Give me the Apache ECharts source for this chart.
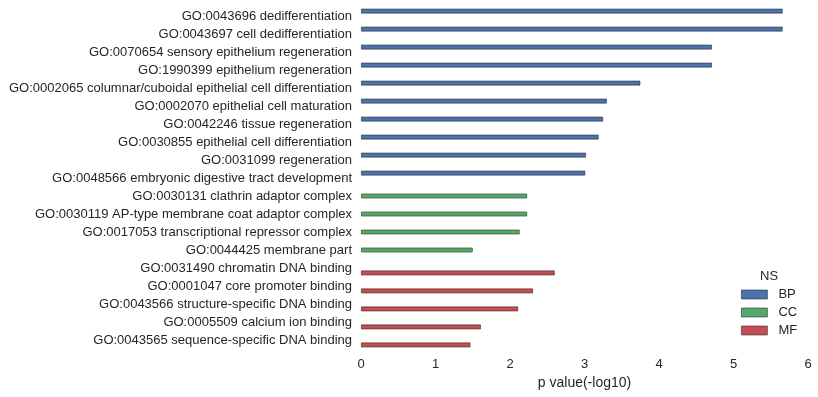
<!DOCTYPE html>
<html>
<head>
<meta charset="utf-8">
<script src="https://cdn.jsdelivr.net/npm/echarts@6/dist/echarts.min.js"></script>
<style>
  html, body { margin: 0; padding: 0; background: #fff; }
  #main { width: 818px; height: 397px; }
</style>
</head>
<body>
<div id="main"></div>
<script>
// GO 术语
var categories = [
    'GO:0043696 dedifferentiation',
    'GO:0043697 cell dedifferentiation',
    'GO:0070654 sensory epithelium regeneration',
    'GO:1990399 epithelium regeneration',
    'GO:0002065 columnar/cuboidal epithelial cell differentiation',
    'GO:0002070 epithelial cell maturation',
    'GO:0042246 tissue regeneration',
    'GO:0030855 epithelial cell differentiation',
    'GO:0031099 regeneration',
    'GO:0048566 embryonic digestive tract development',
    'GO:0030131 clathrin adaptor complex',
    'GO:0030119 AP-type membrane coat adaptor complex',
    'GO:0017053 transcriptional repressor complex',
    'GO:0044425 membrane part',
    'GO:0031490 chromatin DNA binding',
    'GO:0001047 core promoter binding',
    'GO:0043566 structure-specific DNA binding',
    'GO:0005509 calcium ion binding',
    'GO:0043565 sequence-specific DNA binding'
];
// 每个分组的 p value(-log10)，null 表示不属于该组
var bpValues = [5.66, 5.66, 4.71, 4.71, 3.75, 3.30, 3.25, 3.19, 3.02, 3.01,
    null, null, null, null, null, null, null, null, null];
var ccValues = [null, null, null, null, null, null, null, null, null, null,
    2.23, 2.23, 2.13, 1.50, null, null, null, null, null];
var mfValues = [null, null, null, null, null, null, null, null, null, null,
    null, null, null, null, 2.60, 2.31, 2.11, 1.61, 1.47];
var xTicks = [0, 1, 2, 3, 4, 5, 6];

var myChart = echarts.init(document.getElementById('main'));

var textColor = '#262626';
var fontFamily = '"Liberation Sans", Arial, sans-serif';

function barSeries(name, data, color) {
    return {
        name: name,
        type: 'bar',
        data: data,
        barGap: '0%',
        barCategoryGap: '18%',
        itemStyle: {
            color: color,
            borderColor: 'rgba(40,40,40,0.7)',
            borderWidth: 0.8
        },
        animation: false
    };
}

var option = {
    backgroundColor: '#ffffff',
    textStyle: { fontFamily: fontFamily },
    // 图例标题
    title: {
        text: 'NS',
        left: 755,
        top: 265,
        textStyle: { fontSize: 13, fontWeight: 'normal', color: textColor, fontFamily: fontFamily }
    },
    legend: {
        orient: 'vertical',
        left: 741,
        top: 288,
        padding: 0,
        itemWidth: 26,
        itemHeight: 9,
        itemGap: 5,
        icon: 'rect',
        data: ['BP', 'CC', 'MF'],
        itemStyle: { borderColor: 'rgba(40,40,40,0.7)', borderWidth: 0.8 },
        textStyle: { fontSize: 13, color: textColor, fontFamily: fontFamily, padding: [0, 0, 0, 6] }
    },
    grid: {
        left: 361,
        right: 10,
        top: 7,
        bottom: 48,
        containLabel: false
    },
    xAxis: {
        type: 'value',
        min: xTicks[0],
        max: xTicks[xTicks.length - 1],
        interval: 1,
        name: 'p value(-log10)',
        nameLocation: 'middle',
        nameGap: 27,
        nameTextStyle: { fontSize: 14, color: textColor },
        axisLine: { show: false },
        axisTick: { show: false },
        splitLine: { show: false },
        axisLabel: { fontSize: 13, color: textColor, margin: 9 }
    },
    yAxis: {
        type: 'category',
        inverse: true,
        data: categories,
        axisLine: { show: false },
        axisTick: { show: false },
        splitLine: { show: false },
        axisLabel: { fontSize: 13, color: textColor, margin: 9 }
    },
    series: [
        barSeries('BP', bpValues, '#4c72b0'),
        barSeries('CC', ccValues, '#55a868'),
        barSeries('MF', mfValues, '#c44e52')
    ]
};

myChart.setOption(option);

window.addEventListener('resize', function () {
    myChart.resize();
});
</script>
</body>
</html>
